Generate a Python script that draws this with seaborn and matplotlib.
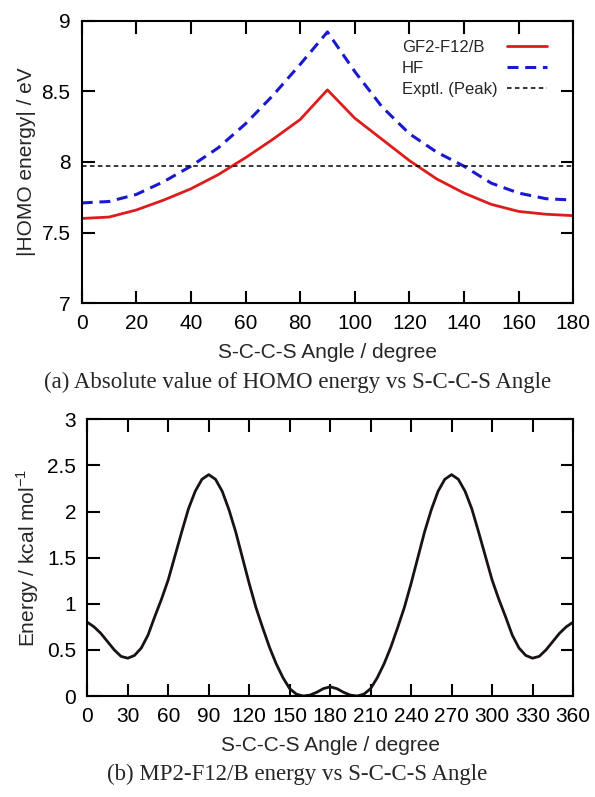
import matplotlib
matplotlib.use("Agg")
import matplotlib.pyplot as plt
import seaborn as sns
import numpy as np

sns.set_theme(style="ticks")
plt.rcParams['font.family'] = ['Liberation Sans', 'DejaVu Sans']
plt.rcParams['mathtext.fontset'] = 'custom'
plt.rcParams['mathtext.rm'] = 'Liberation Sans'

# (a) |HOMO energy| vs angle
angle_a = [0, 10, 20, 30, 40, 50, 60, 70, 80, 90, 100, 110, 120, 130, 140, 150, 160, 170, 180]
gf2 = [7.60, 7.61, 7.66, 7.73, 7.81, 7.91, 8.03, 8.16, 8.30, 8.51, 8.31, 8.16, 8.01, 7.88, 7.78,
       7.70, 7.65, 7.63, 7.62]
hf = [7.71, 7.72, 7.77, 7.86, 7.97, 8.10, 8.27, 8.47, 8.69, 8.92, 8.64, 8.39, 8.20, 8.07, 7.97,
      7.85, 7.78, 7.74, 7.73]
exptl_peak = 7.97

# (b) MP2-F12/B energy vs angle
angle_b = list(range(0, 365, 5))
energy = [0.80, 0.75, 0.68, 0.59, 0.50, 0.43, 0.41, 0.44, 0.52, 0.66, 0.86, 1.05, 1.26, 1.52, 1.78,
          2.03, 2.22, 2.35, 2.40, 2.35, 2.22, 2.02, 1.78, 1.50, 1.22, 0.96, 0.74, 0.53, 0.35, 0.20,
          0.08, 0.02, 0.00, 0.01, 0.04, 0.08, 0.10, 0.08, 0.04, 0.01, 0.00, 0.02, 0.08, 0.20, 0.35,
          0.53, 0.74, 0.96, 1.22, 1.50, 1.78, 2.02, 2.22, 2.35, 2.40, 2.35, 2.22, 2.03, 1.78, 1.52,
          1.26, 1.05, 0.86, 0.66, 0.52, 0.44, 0.41, 0.43, 0.50, 0.59, 0.68, 0.75, 0.80]

FS = 15

fig = plt.figure(figsize=(5.95, 7.97), dpi=100)
ax1 = fig.add_axes([0.1373, 0.6195, 0.826, 0.3546])
ax2 = fig.add_axes([0.1467, 0.1267, 0.8163, 0.3472])

def style_axes(ax):
    for s in ax.spines.values():
        s.set_linewidth(1.5)
        s.set_color('black')
    ax.tick_params(direction='in', length=9, width=1.5, top=True, right=True,
                   labelsize=FS, colors='black', pad=8)

# --- panel (a)
sns.lineplot(x=angle_a, y=gf2, ax=ax1, color='#dd1c1c', linewidth=2.0, label='GF2-F12/B')
sns.lineplot(x=angle_a, y=hf, ax=ax1, color='#1a1acc', linewidth=2.2,
             linestyle=(0, (3.6, 2.2)), label='HF')
ax1.axhline(exptl_peak, color='black', linewidth=1.1, linestyle=(0, (3, 2.2)),
            label='Exptl. (Peak)')
ax1.set_xlim(0, 180)
ax1.set_ylim(7, 9)
ax1.set_xticks(np.arange(0, 181, 20))
ax1.set_yticks([7, 7.5, 8, 8.5, 9])
ax1.set_yticklabels(['7', '7.5', '8', '8.5', '9'])
ax1.set_xlabel('S-C-C-S Angle / degree', fontsize=FS, labelpad=7)
ax1.set_ylabel('|HOMO energy| / eV', fontsize=FS, labelpad=4)
style_axes(ax1)
leg = ax1.legend(loc='upper right', bbox_to_anchor=(0.978, 0.985), frameon=False,
                 markerfirst=False, handlelength=2.4, fontsize=12,
                 labelspacing=0.35, handletextpad=0.6)

# --- panel (b)
sns.lineplot(x=angle_b, y=energy, ax=ax2, color='#1a1212', linewidth=2.0)
ax2.set_xlim(0, 360)
ax2.set_ylim(0, 3)
ax2.set_xticks(np.arange(0, 361, 30))
ax2.set_yticks([0, 0.5, 1, 1.5, 2, 2.5, 3])
ax2.set_yticklabels(['0', '0.5', '1', '1.5', '2', '2.5', '3'])
ax2.set_xlabel('S-C-C-S Angle / degree', fontsize=FS, labelpad=7)
ax2.set_ylabel('Energy / kcal mol$^{\\mathregular{-1}}$', fontsize=FS, labelpad=4)
style_axes(ax2)

fig.text(0.5, 1 - 382 / 797, '(a) Absolute value of HOMO energy vs S-C-C-S Angle',
         ha='center', va='center', fontsize=16.5, family='Liberation Serif')
fig.text(0.5, 1 - 774 / 797, '(b) MP2-F12/B energy vs S-C-C-S Angle',
         ha='center', va='center', fontsize=16.5, family='Liberation Serif')

# left-justify legend labels (gnuplot style) while keeping samples on the right
fig.canvas.draw()
texts = leg.get_texts()
exts = [t.get_window_extent() for t in texts]
x_left = min(e.x0 for e in exts)
for t, e in zip(texts, exts):
    x, y = t.get_position()
    t.set_position((x - (e.x0 - x_left), y))

fig.savefig('out.png', dpi=100)
